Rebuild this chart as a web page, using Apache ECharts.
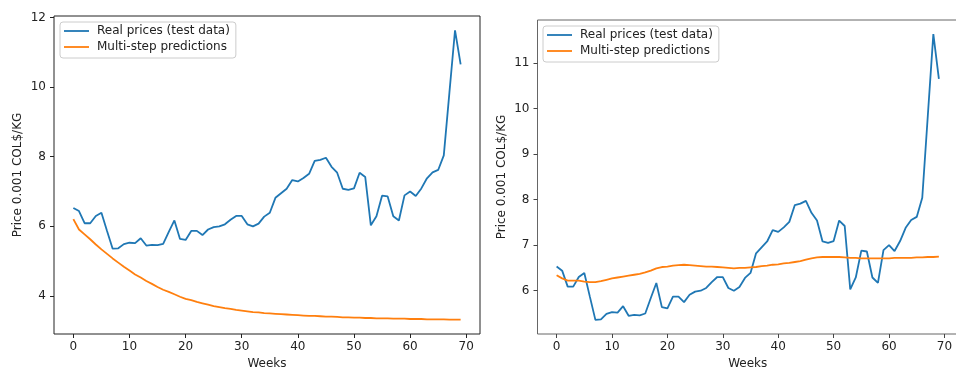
<!DOCTYPE html>
<html>
<head>
<meta charset="utf-8">
<script src="https://cdn.jsdelivr.net/npm/echarts@6/dist/echarts.min.js"></script>
<style>html,body{margin:0;padding:0;background:#fff}#c{width:956px;height:369px}</style>
</head>
<body>
<div id="c"></div>
<script>
var weeks = [];
for (var k = 0; k < 70; k++) weeks.push(k);
var realPrices = [6.53,6.44,6.09,6.09,6.30,6.39,5.87,5.36,5.37,5.49,5.53,5.52,5.66,5.45,5.47,5.46,5.50,5.84,6.17,5.64,
  5.61,5.87,5.87,5.75,5.91,5.98,6.00,6.06,6.19,6.30,6.30,6.06,6.00,6.08,6.28,6.39,6.82,6.95,7.08,7.33,
  7.29,7.39,7.51,7.88,7.91,7.97,7.71,7.54,7.08,7.05,7.09,7.54,7.42,6.03,6.29,6.88,6.86,6.29,6.17,6.89,
  7.00,6.87,7.09,7.38,7.55,7.62,8.04,9.84,11.63,10.65];
var predLeft = [6.21,5.91,5.77,5.63,5.48,5.34,5.21,5.08,4.96,4.84,4.73,4.62,4.53,4.43,4.35,4.26,4.18,4.12,4.05,3.98,
  3.92,3.88,3.83,3.79,3.75,3.71,3.68,3.65,3.63,3.60,3.58,3.56,3.54,3.53,3.51,3.50,3.49,3.48,3.47,3.46,
  3.45,3.44,3.43,3.43,3.42,3.41,3.41,3.40,3.39,3.39,3.38,3.38,3.37,3.37,3.36,3.36,3.36,3.35,3.35,3.35,
  3.34,3.34,3.34,3.33,3.33,3.33,3.33,3.32,3.32,3.32];
var predRight = [6.34,6.27,6.22,6.22,6.22,6.20,6.19,6.19,6.21,6.24,6.27,6.29,6.31,6.33,6.35,6.37,6.40,6.44,6.49,6.52,
  6.53,6.55,6.56,6.57,6.56,6.55,6.54,6.53,6.53,6.52,6.51,6.50,6.49,6.50,6.50,6.51,6.52,6.54,6.55,6.57,
  6.58,6.60,6.61,6.63,6.65,6.68,6.71,6.73,6.74,6.74,6.74,6.74,6.73,6.72,6.72,6.71,6.71,6.71,6.71,6.71,
  6.71,6.72,6.72,6.72,6.72,6.73,6.73,6.74,6.74,6.75];
var xTicks = [0,10,20,30,40,50,60,70];
var yTicksLeft = [4,6,8,10,12];
var yTicksRight = [6,7,8,9,10,11];
var seriesNames = ['Real prices (test data)', 'Multi-step predictions'];
var xName = 'Weeks';
var yName = 'Price 0.001 COL$/KG';

var FONT = 'DejaVu Sans';
function pairs(vals) { return weeks.map(function (w, i) { return [w, vals[i]]; }); }

function xAxis(idx, col) {
  return {
    type: 'value', gridIndex: idx, min: -3.45, max: 72.45,
    name: xName, nameLocation: 'middle', nameGap: 22,
    nameTextStyle: { fontFamily: FONT, fontSize: 12, color: '#222' },
    axisLine: { show: false, onZero: false },
    splitLine: { show: false },
    axisTick: { show: true, length: 4, customValues: xTicks, lineStyle: { color: col, width: 1 } },
    axisLabel: { customValues: xTicks, margin: 7, fontFamily: FONT, fontSize: 12, color: '#222' }
  };
}
function yAxis(idx, min, max, ticks, col) {
  return {
    type: 'value', gridIndex: idx, min: min, max: max,
    name: yName, nameLocation: 'middle', nameGap: 30,
    nameTextStyle: { fontFamily: FONT, fontSize: 12, color: '#222' },
    axisLine: { show: false, onZero: false },
    splitLine: { show: false },
    axisTick: { show: true, length: 4, customValues: ticks, lineStyle: { color: col, width: 1 } },
    axisLabel: { customValues: ticks, margin: 8, fontFamily: FONT, fontSize: 12, color: '#222' }
  };
}
function line(name, data, color, idx) {
  return {
    type: 'line', name: name, xAxisIndex: idx, yAxisIndex: idx, data: pairs(data),
    symbol: 'none', showSymbol: false, smooth: false, animation: false,
    lineStyle: { color: color, width: 1.8 }, itemStyle: { color: color }
  };
}
function legend(left, top) {
  return {
    data: seriesNames, orient: 'vertical', left: left, top: top,
    icon: 'path://M0,0L25,0L25,1.8L0,1.8Z',
    itemWidth: 25, itemHeight: 14, itemGap: 4,
    padding: [3, 6, 5, 4],
    borderColor: '#cccccc', borderWidth: 1, borderRadius: 3,
    backgroundColor: 'rgba(255,255,255,0.8)',
    selectedMode: false,
    textStyle: { fontFamily: FONT, fontSize: 12, color: '#222', padding: [0, 0, 0, 3] }
  };
}

var chart = echarts.init(document.getElementById('c'), null, { renderer: 'canvas' });
chart.setOption({
  animation: false,
  backgroundColor: '#ffffff',
  grid: [
    { left: 54, top: 16, width: 426, height: 318, show: true, borderColor: '#222', borderWidth: 1, backgroundColor: 'transparent', containLabel: false, outerBoundsMode: 'none' },
    { left: 537.5, top: 20, width: 420.5, height: 314, show: true, borderColor: '#666', borderWidth: 1, backgroundColor: 'transparent', containLabel: false, outerBoundsMode: 'none' }
  ],
  xAxis: [xAxis(0, '#222'), xAxis(1, '#444')],
  yAxis: [yAxis(0, 2.91, 12.04, yTicksLeft, '#222'), yAxis(1, 5.05, 11.94, yTicksRight, '#444')],
  legend: [legend(60, 22), legend(543, 26)],
  series: [
    line(seriesNames[0], realPrices, '#1f77b4', 0),
    line(seriesNames[1], predLeft, '#ff7f0e', 0),
    line(seriesNames[0], realPrices, '#1f77b4', 1),
    line(seriesNames[1], predRight, '#ff7f0e', 1)
  ]
});
</script>
</body>
</html>
